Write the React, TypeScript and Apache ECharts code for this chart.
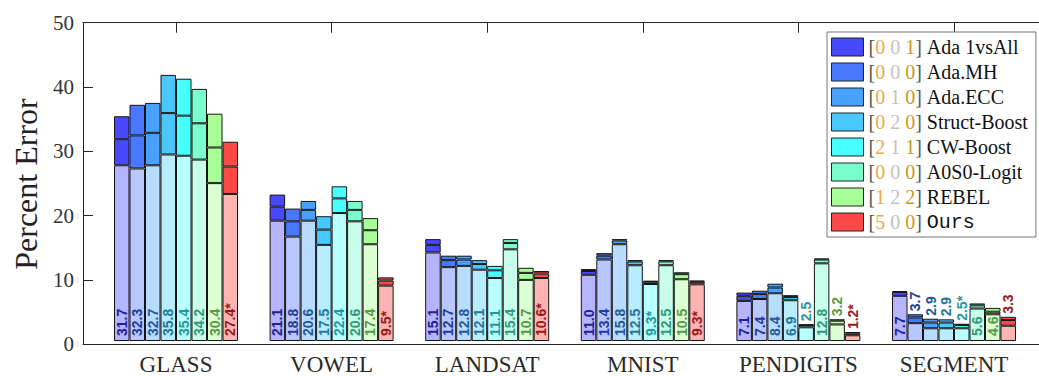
import React, { useEffect, useRef } from "react";
import * as echarts from "echarts";

// Benchmark datasets along the x axis
const datasets = ["GLASS", "VOWEL", "LANDSAT", "MNIST", "PENDIGITS", "SEGMENT"];

// Methods compared inside every dataset group
const methods = [
  "Ada 1vsAll",
  "Ada.MH",
  "Ada.ECC",
  "Struct-Boost",
  "CW-Boost",
  "A0S0-Logit",
  "REBEL",
  "Ours",
];

// Bracketed tallies printed in front of each method name in the legend
const tallies = [
  [0, 0, 1],
  [0, 0, 0],
  [0, 1, 0],
  [0, 2, 0],
  [2, 1, 1],
  [0, 0, 0],
  [1, 2, 2],
  [5, 0, 0],
];

// Percent error per method as [low, mean, high]
const glass = [
  [27.6, 31.7, 35.3],
  [27.1, 32.3, 37.1],
  [27.6, 32.7, 37.4],
  [29.3, 35.8, 41.8],
  [29.1, 35.4, 41.2],
  [28.5, 34.2, 39.6],
  [24.8, 30.4, 35.7],
  [23.1, 27.4, 31.3],
];
const vowel = [
  [18.9, 21.1, 23.0],
  [16.4, 18.8, 20.8],
  [18.9, 20.6, 22.0],
  [15.1, 17.5, 19.6],
  [20.1, 22.4, 24.3],
  [18.8, 20.6, 22.0],
  [15.2, 17.4, 19.3],
  [8.7, 9.5, 10.0],
];
const landsat = [
  [13.9, 15.1, 16.0],
  [11.6, 12.7, 13.4],
  [11.8, 12.8, 13.4],
  [11.2, 12.1, 12.7],
  [9.9, 11.1, 11.8],
  [14.4, 15.4, 16.0],
  [9.6, 10.7, 11.5],
  [9.9, 10.6, 11.0],
];
const mnist = [
  [10.4, 11.0, 11.3],
  [12.8, 13.4, 13.8],
  [15.2, 15.8, 16.0],
  [11.9, 12.5, 12.7],
  [8.95, 9.3, 9.45],
  [11.9, 12.5, 12.7],
  [9.7, 10.5, 10.8],
  [8.9, 9.3, 9.5],
];
const pendigits = [
  [6.3, 7.1, 7.6],
  [6.6, 7.4, 7.9],
  [7.5, 8.4, 9.0],
  [6.4, 6.9, 7.2],
  [2.15, 2.5, 2.6],
  [12.2, 12.8, 12.95],
  [2.6, 3.2, 3.4],
  [0.9, 1.2, 1.4],
];
const segment = [
  [7.1, 7.7, 7.85],
  [2.8, 3.7, 4.2],
  [2.0, 2.9, 3.5],
  [2.0, 2.9, 3.4],
  [2.0, 2.5, 2.7],
  [5.1, 5.6, 5.9],
  [4.2, 4.6, 5.2],
  [2.4, 3.3, 3.8],
];
const errorTable = [glass, vowel, landsat, mnist, pendigits, segment];

const yTicks = [0, 10, 20, 30, 40, 50];

const fillColors = ["#4848ff", "#4878ff", "#48a0ff", "#48c8ff", "#48ffff", "#78ffcc", "#a8ff98", "#ff4848"];
const lightColors = ["#b4b4ff", "#b8c8ff", "#b8dcff", "#b8ecff", "#b8ffff", "#c8ffec", "#dcffd4", "#ffb4b4"];
const labelColors = ["#20209a", "#22399c", "#22589a", "#21789a", "#1f9a9a", "#2f9a78", "#559a45", "#9c1818"];

const SERIF = "Liberation Serif";
const SANS = "Liberation Sans";
const MONO = "Liberation Mono";
const AXIS = "#262626";

function buildOption() {
  const series: any[] = [];
  const best = errorTable.map((rows) => Math.min(...rows.map((r) => r[1])));

  const labelBase = {
    show: true,
    rotate: 90,
    align: "left",
    verticalAlign: "middle",
    fontFamily: SANS,
    fontWeight: "bold",
    fontSize: 14,
  };

  methods.forEach((name, m) => {
    const text = (d: number) => {
      const mean = errorTable[d][m][1];
      return mean.toFixed(1) + (mean === best[d] ? "*" : "");
    };
    const inside = (d: number) => errorTable[d][m][1] >= 4.5;
    const common = {
      type: "bar",
      xAxisIndex: 2,
      yAxisIndex: 1,
      stack: "s" + m,
      barWidth: 15.5,
      barGap: "0%",
      animation: false,
    };
    const border = { borderColor: "#151515", borderWidth: 1 };

    series.push({
      ...common,
      name: name + " low",
      itemStyle: { color: lightColors[m], ...border },
      data: datasets.map((_, d) => ({
        value: errorTable[d][m][0],
        label: inside(d)
          ? {
              ...labelBase,
              position: "insideBottom",
              distance: 5,
              color: labelColors[m],
              formatter: text(d),
            }
          : { show: false },
      })),
    });
    series.push({
      ...common,
      name: name + " mean",
      itemStyle: { color: fillColors[m], ...border },
      data: datasets.map((_, d) => errorTable[d][m][1] - errorTable[d][m][0]),
    });
    series.push({
      ...common,
      name,
      itemStyle: { color: fillColors[m], ...border },
      data: datasets.map((_, d) => ({
        value: errorTable[d][m][2] - errorTable[d][m][1],
        label: inside(d)
          ? { show: false }
          : {
              ...labelBase,
              position: "top",
              distance: 3,
              color: labelColors[m],
              formatter: text(d),
            },
      })),
    });
  });

  const legendFont = 20;
  const rich = {
    br: { color: "#555", fontFamily: SERIF, fontSize: legendFont, lineHeight: 18 },
    c0: { color: "#eda94a", fontFamily: SERIF, fontSize: legendFont, lineHeight: 18 },
    c1: { color: "#c2c2c2", fontFamily: SERIF, fontSize: legendFont, lineHeight: 18 },
    c2: { color: "#c79a22", fontFamily: SERIF, fontSize: legendFont, lineHeight: 18 },
    nm: { color: "#111", fontFamily: SERIF, fontSize: legendFont, lineHeight: 18 },
    mono: { color: "#111", fontFamily: MONO, fontSize: legendFont, lineHeight: 18 },
  };

  return {
    animation: false,
    backgroundColor: "#ffffff",
    grid: [
      { left: 83, top: 22.7, width: 964, height: 321.5 },
      { left: 98.2, top: 22.7, width: 933.6, height: 321.5 },
    ],
    graphic: [
      {
        type: "text",
        x: 26,
        y: 184,
        rotation: Math.PI / 2,
        style: {
          text: "Percent Error",
          fontFamily: SERIF,
          fontSize: 32,
          fill: "#222",
          align: "center",
          verticalAlign: "middle",
        },
      },
    ],
    xAxis: [
      {
        gridIndex: 0,
        type: "value",
        min: 0,
        max: 1,
        position: "bottom",
        axisLine: { show: true, lineStyle: { color: AXIS, width: 1 } },
        axisTick: { show: false },
        axisLabel: { show: false },
        splitLine: { show: false },
      },
      {
        gridIndex: 0,
        type: "value",
        min: 0,
        max: 1,
        position: "top",
        axisLine: { show: true, lineStyle: { color: AXIS, width: 1 } },
        axisTick: { show: false },
        axisLabel: { show: false },
        splitLine: { show: false },
      },
      {
        gridIndex: 1,
        type: "category",
        data: datasets,
        position: "bottom",
        axisLine: { show: false },
        axisTick: { show: true, inside: true, alignWithLabel: true, length: 10, lineStyle: { color: AXIS } },
        axisLabel: { fontFamily: SERIF, fontSize: 23, color: "#2a2a2a", margin: 12 },
      },
      {
        gridIndex: 1,
        type: "category",
        data: datasets,
        position: "top",
        axisLine: { show: false },
        axisTick: { show: true, inside: true, alignWithLabel: true, length: 10, lineStyle: { color: AXIS } },
        axisLabel: { show: false },
      },
    ],
    yAxis: [
      {
        gridIndex: 0,
        type: "value",
        min: yTicks[0],
        max: yTicks[yTicks.length - 1],
        interval: 10,
        position: "left",
        axisLine: { show: true, lineStyle: { color: AXIS, width: 1 } },
        axisTick: { show: true, inside: true, length: 10, lineStyle: { color: AXIS } },
        axisLabel: { fontFamily: SERIF, fontSize: 21, color: "#333", margin: 9 },
        splitLine: { show: false },
      },
      {
        gridIndex: 1,
        type: "value",
        min: 0,
        max: 50,
        show: false,
      },
    ],
    legend: {
      orient: "vertical",
      left: 827,
      top: 32,
      data: methods,
      selectedMode: false,
      icon: "rect",
      itemWidth: 32,
      itemHeight: 18,
      itemGap: 5,
      padding: [5, 8, 5, 4],
      backgroundColor: "#ffffff",
      borderColor: "#777",
      borderWidth: 1,
      borderRadius: 0,
      itemStyle: { borderColor: "#222", borderWidth: 1 },
      textStyle: { fontFamily: SERIF, fontSize: legendFont, color: "#111", lineHeight: 18, rich },
      formatter: (name: string) => {
        const i = methods.indexOf(name);
        const t = tallies[i];
        const label = name === "Ours" ? `{mono|${name}}` : `{nm|${name}}`;
        return `{br|[}{c0|${t[0]}} {c1|${t[1]}} {c2|${t[2]}}{br|]} ${label}`;
      },
    },
    series,
  };
}

export default function App() {
  const ref = useRef<HTMLDivElement>(null);
  useEffect(() => {
    if (!ref.current) return;
    const chart = echarts.init(ref.current, undefined, { renderer: "svg" });
    chart.setOption(buildOption() as any);
    return () => chart.dispose();
  }, []);
  return (
    <div
      ref={ref}
      style={{ position: "fixed", left: 0, top: 0, width: 1039, height: 376, background: "#fff" }}
    />
  );
}
